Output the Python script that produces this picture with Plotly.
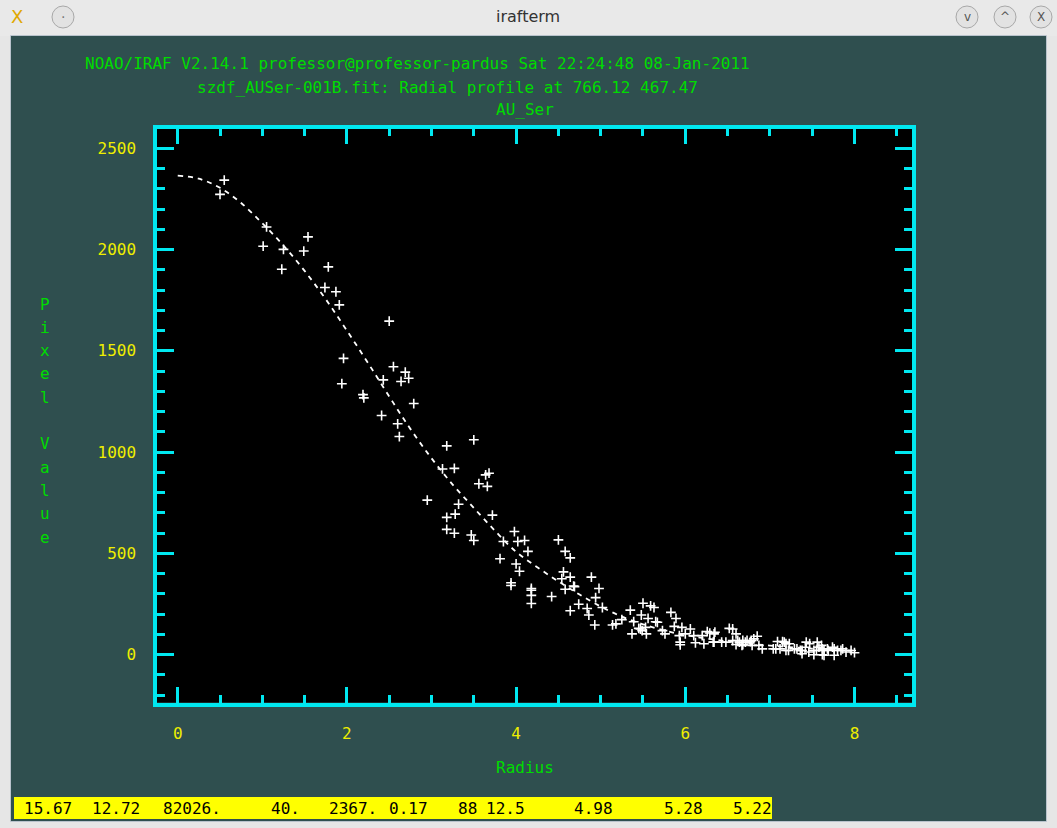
import plotly.graph_objects as go

W, H = 1057, 828

# ---------------- data ----------------
radius = [
    0.55, 0.50, 1.05, 1.54, 1.01, 1.25, 1.49, 1.23, 1.78, 1.74, 1.87, 1.91,
    2.50, 1.96, 2.55, 2.69, 2.43, 2.64, 2.73, 1.94, 2.19, 2.20, 2.79, 2.41,
    2.60, 2.62, 3.18, 3.50, 3.13, 3.27, 3.64, 3.68, 3.56, 3.66, 2.95, 3.32,
    3.28, 3.18, 3.72, 3.18, 3.27, 3.47, 3.50, 3.98, 3.85, 4.02, 4.10, 4.14,
    3.81, 4.00, 4.04, 3.94, 3.94, 4.18, 4.18, 4.18, 4.18, 4.42, 4.50, 4.58,
    4.64, 4.56, 4.64, 4.54, 4.68, 4.58, 4.69, 4.89, 4.98, 4.94, 4.74, 4.84,
    4.64, 4.86, 4.93, 5.02, 5.14, 5.18, 5.25, 5.35, 5.39, 5.37, 5.48, 5.50,
    5.59, 5.63, 5.56, 5.53, 5.47, 5.54, 5.65, 5.73, 5.76, 5.83, 5.89, 5.87,
    5.96, 5.93, 5.94, 5.94, 6.06, 6.00, 6.10, 6.12, 6.20, 6.26, 6.22, 6.34,
    6.34, 6.43, 6.52, 6.56, 6.60, 6.64, 6.67, 6.71, 6.77, 6.81, 6.85, 6.87,
    6.91, 6.79, 7.07, 7.15, 7.19, 7.23, 7.19, 7.29, 7.36, 7.42, 7.46, 7.52,
    7.56, 7.58, 7.61, 7.64, 7.64, 7.68, 7.74, 7.76, 7.80, 7.86, 7.90, 7.96,
    8.00, 5.45, 5.49, 5.67, 6.29, 6.35, 6.33, 6.48, 6.56, 6.62, 6.68, 6.73,
    6.78, 6.60, 6.68, 7.09, 7.17, 7.04, 7.12, 7.22, 7.32, 7.38, 7.43, 7.47,
    7.55, 7.62, 7.69, 7.76, 7.84, 7.38, 7.52, 7.62,
]
pixel_value = [
    2343, 2273, 2112, 2063, 2017, 2001, 1993, 1903, 1915, 1813, 1792, 1727,
    1647, 1463, 1422, 1395, 1357, 1349, 1365, 1338, 1284, 1268, 1240, 1181,
    1140, 1077, 1031, 1061, 917, 920, 888, 896, 844, 831, 763, 743,
    694, 678, 689, 619, 600, 591, 564, 608, 559, 559, 564, 510,
    474, 448, 412, 355, 342, 327, 318, 293, 253, 287, 567, 510,
    478, 409, 383, 375, 339, 323, 336, 383, 327, 282, 249, 228,
    217, 196, 147, 233, 147, 152, 173, 220, 163, 103, 196, 254,
    241, 233, 179, 135, 127, 103, 163, 119, 103, 209, 179, 140,
    135, 94, 62, 49, 127, 103, 94, 59, 94, 114, 54, 103,
    62, 62, 130, 127, 103, 62, 46, 62, 65, 78, 91, 46,
    29, 46, 29, 65, 54, 54, 21, 29, 21, 37, 13, 21,
    62, 37, 46, 21, -3, 29, 37, -3, 21, 29, 13, 21,
    10, 130, 119, 160, 107, 111, 62, 62, 70, 70, 70, 70,
    70, 50, 50, 65, 62, 29, 29, 21, 29, 21, 62, 54,
    21, 29, 21, 29, 21, 5, 0, 0,
]

fit_radius = [0, 0.25, 0.5, 0.75, 1, 1.25, 1.5, 1.75, 2, 2.25, 2.5, 2.75, 3,
              3.25, 3.5, 3.75, 4, 4.25, 4.5, 4.75, 5, 5.25, 5.5, 5.75, 6,
              6.5, 7, 7.5, 8]
fit_value = [2365, 2350, 2305, 2230, 2130, 2020, 1895, 1755, 1600, 1440, 1275,
             1115, 970, 840, 725, 612, 508, 432, 362, 297, 238, 188, 150, 120,
             97, 66, 45, 30, 20]

x_tick_values = [0, 2, 4, 6, 8]
y_tick_values = [0, 500, 1000, 1500, 2000, 2500]

header_lines = [
    "NOAO/IRAF V2.14.1 professor@professor-pardus Sat 22:24:48 08-Jan-2011",
    "szdf_AUSer-001B.fit: Radial profile at 766.12 467.47",
    "AU_Ser",
]
x_title = "Radius"
y_title = "Pixel Value"
window_title = "irafterm"
status_values = ["15.67", "12.72", "82026.", "40.", "2367.", "0.17", "88",
                 "12.5", "4.98", "5.28", "5.22"]

# ---------------- layout / styling ----------------
MONO = "DejaVu Sans Mono"
BG = "#2F4F4F"
GREEN = "#00DC00"
YELLOW = "#EEEE00"
CYAN = "#00E8F0"

status_px = [22, 90, 161, 269, 327, 387, 456, 484, 572, 662, 731]
header_pos = [(83, 63, "left"), (195, 87, "left"), (525, 109, "center")]


def px(x):
    return x / W


def py(y):
    return 1 - y / H


def ann(text, x, y, size, color, xanchor="center", family=MONO):
    return dict(text=text, x=px(x), y=py(y), xref="paper", yref="paper",
                showarrow=False, xanchor=xanchor, yanchor="middle",
                font=dict(family=family, size=size, color=color))


fig = go.Figure()
fig.add_trace(go.Scatter(
    x=fit_radius, y=fit_value, mode="lines",
    line=dict(color="white", width=1.8, dash="5px,5px", shape="spline"),
    hoverinfo="skip", showlegend=False))
fig.add_trace(go.Scatter(
    x=radius, y=pixel_value, mode="markers",
    marker=dict(symbol="cross-thin", size=7, color="white",
                line=dict(color="white", width=1.6)),
    showlegend=False))

# plot area
x0p, x1p, y0p, y1p = 157, 912, 128.5, 702.5
fig.update_layout(
    width=W, height=H,
    margin=dict(l=0, r=0, t=0, b=0),
    paper_bgcolor=BG, plot_bgcolor="black",
    showlegend=False,
    xaxis=dict(
        domain=[px(x0p), px(x1p)], range=[-0.245, 8.68],
        tickvals=x_tick_values, ticktext=[str(v) for v in x_tick_values],
        ticks="inside", ticklen=16, tickwidth=3, tickcolor=CYAN,
        showline=True, linecolor=CYAN, linewidth=3.5, mirror="ticks",
        showgrid=False, zeroline=False,
        tickfont=dict(family=MONO, size=16, color=YELLOW),
        ticklabelstandoff=14,
        minor=dict(dtick=0.5, tick0=0, ticks="inside", ticklen=8,
                   tickwidth=3, tickcolor=CYAN, showgrid=False),
    ),
    yaxis=dict(
        domain=[1 - y1p / H, 1 - y0p / H],
        range=[-236, 2598],
        tickvals=y_tick_values, ticktext=[str(v) for v in y_tick_values],
        ticks="inside", ticklen=17, tickwidth=3, tickcolor=CYAN,
        showline=True, linecolor=CYAN, linewidth=3.5, mirror="ticks",
        showgrid=False, zeroline=False,
        tickfont=dict(family=MONO, size=16, color=YELLOW),
        ticklabelstandoff=14,
        minor=dict(dtick=100, tick0=0, ticks="inside", ticklen=8,
                   tickwidth=3, tickcolor=CYAN, showgrid=False),
    ),
)

shapes = []
# window decorations
shapes.append(dict(type="rect", xref="paper", yref="paper", x0=0, x1=1,
                   y0=py(36), y1=1, fillcolor="#E9E9E9", line=dict(width=0),
                   layer="below"))
shapes.append(dict(type="rect", xref="paper", yref="paper", x0=0, x1=px(11),
                   y0=0, y1=py(36), fillcolor="#E6E6E6", line=dict(width=0),
                   layer="below"))
shapes.append(dict(type="rect", xref="paper", yref="paper", x0=px(1046), x1=1,
                   y0=0, y1=py(36), fillcolor="#E6E6E6", line=dict(width=0),
                   layer="below"))
shapes.append(dict(type="rect", xref="paper", yref="paper", x0=0, x1=1,
                   y0=0, y1=py(821), fillcolor="#E6E6E6", line=dict(width=0),
                   layer="below"))
shapes.append(dict(type="rect", xref="paper", yref="paper", x0=px(10.5),
                   x1=px(1046.5), y0=py(821.5), y1=py(35.5),
                   fillcolor="rgba(0,0,0,0)", line=dict(color="#B9C3CC", width=1),
                   layer="below"))
# title bar buttons
for cx in [63, 967, 1005, 1041]:
    shapes.append(dict(type="circle", xref="paper", yref="paper",
                       x0=px(cx - 11), x1=px(cx + 11), y0=py(28), y1=py(6),
                       fillcolor="#E2E2E2", line=dict(color="#A8A8A8", width=1)))
# status bar
shapes.append(dict(type="rect", xref="paper", yref="paper", x0=px(14),
                   x1=px(772), y0=py(819), y1=py(797), fillcolor="#FFFF00",
                   line=dict(width=0), layer="below"))

annotations = []
annotations.append(ann(window_title, 528, 17, 16, "#333333", family="DejaVu Sans"))
annotations.append(ann("X", 17, 17, 18, "#E0A800", family="DejaVu Sans"))
annotations.append(ann("·", 63, 17, 14, "#777777", family="DejaVu Sans"))
for cx, g in zip([967, 1005, 1041], ["v", "^", "X"]):
    annotations.append(ann(g, cx, 17, 12, "#555555", family="DejaVu Sans"))
for (hx, hy, anc), line in zip(header_pos, header_lines):
    annotations.append(ann(line, hx, hy, 16, GREEN, xanchor=anc))
annotations.append(ann(x_title, 525, 767, 16, GREEN))
for i, ch in enumerate(y_title):
    if ch.strip():
        annotations.append(ann(ch, 45, 304 + i * 23.3, 16, GREEN))
for sx, val in zip(status_px, status_values):
    annotations.append(ann(val, sx, 808, 16, "black", xanchor="left"))

fig.update_layout(shapes=shapes, annotations=annotations)

fig.write_html(
    "out.html",
    config={"displayModeBar": False},
    post_script="document.body.style.margin='0px';document.body.style.overflow='hidden';",
)
